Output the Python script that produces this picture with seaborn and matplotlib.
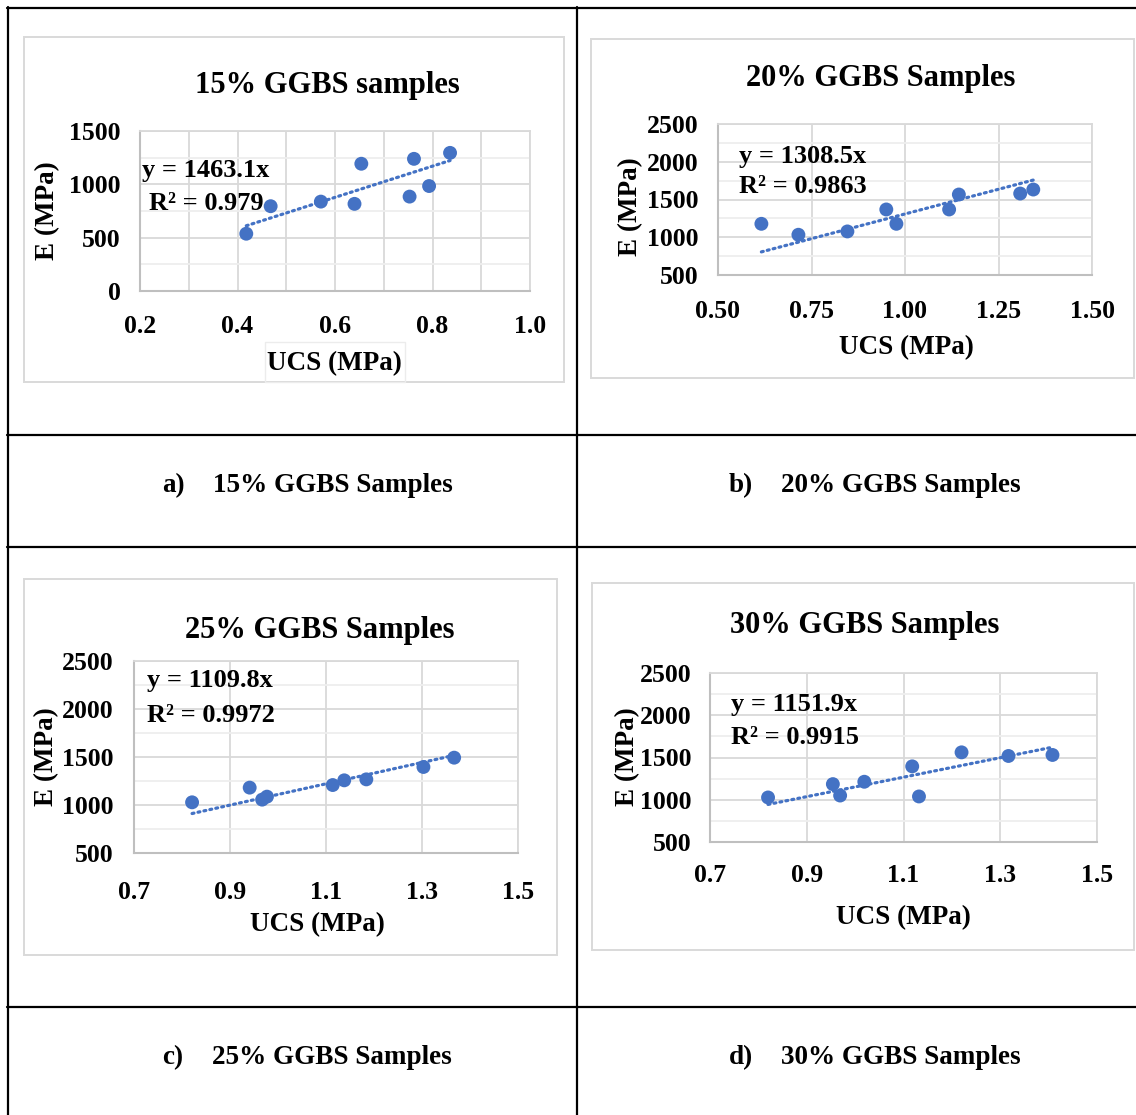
import matplotlib
matplotlib.use("Agg")
import matplotlib.pyplot as plt
from matplotlib.lines import Line2D
from matplotlib.patches import Rectangle
from matplotlib.ticker import MultipleLocator
import seaborn as sns

# ---- data: UCS (MPa) vs elastic modulus E (MPa) for each GGBS content ----
ucs_15 = [0.418, 0.468, 0.571, 0.640, 0.654, 0.753, 0.762, 0.793, 0.836]
e_15 = [537, 795, 838, 817, 1193, 885, 1239, 984, 1295]

ucs_20 = [0.616, 0.715, 0.846, 0.950, 0.977, 1.118, 1.144, 1.308, 1.343]
e_20 = [1178, 1033, 1077, 1368, 1178, 1368, 1566, 1579, 1632]

ucs_25 = [0.821, 0.941, 0.967, 0.977, 1.114, 1.138, 1.184, 1.303, 1.367]
e_25 = [1028, 1181, 1056, 1087, 1208, 1257, 1267, 1396, 1493]

ucs_30 = [0.820, 0.954, 0.969, 1.019, 1.118, 1.132, 1.220, 1.317, 1.408]
e_30 = [1027, 1185, 1050, 1213, 1395, 1039, 1561, 1518, 1530]

slopes = [1463.1, 1308.5, 1109.8, 1151.9]
r2_labels = ["0.979", "0.9863", "0.9972", "0.9915"]
slope_labels = ["1463.1", "1308.5", "1109.8", "1151.9"]

titles = ["15% GGBS samples", "20% GGBS Samples", "25% GGBS Samples", "30% GGBS Samples"]
captions = ["15% GGBS Samples", "20% GGBS Samples", "25% GGBS Samples", "30% GGBS Samples"]
caption_tags = ["a)", "b)", "c)", "d)"]

x_ticks = [
    [0.2, 0.4, 0.6, 0.8, 1.0],
    [0.50, 0.75, 1.00, 1.25, 1.50],
    [0.7, 0.9, 1.1, 1.3, 1.5],
    [0.7, 0.9, 1.1, 1.3, 1.5],
]
x_tick_labels = [
    ["0.2", "0.4", "0.6", "0.8", "1.0"],
    ["0.50", "0.75", "1.00", "1.25", "1.50"],
    ["0.7", "0.9", "1.1", "1.3", "1.5"],
    ["0.7", "0.9", "1.1", "1.3", "1.5"],
]
y_ticks = [
    [0, 500, 1000, 1500],
    [500, 1000, 1500, 2000, 2500],
    [500, 1000, 1500, 2000, 2500],
    [500, 1000, 1500, 2000, 2500],
]

ucs_sets = [ucs_15, ucs_20, ucs_25, ucs_30]
e_sets = [e_15, e_20, e_25, e_30]

# ---- style ----
sns.set_style("white")
plt.rcParams["font.family"] = ["Liberation Serif", "DejaVu Serif"]
plt.rcParams["font.weight"] = "bold"
plt.rcParams["text.color"] = "black"
plt.rcParams["xtick.labelcolor"] = "black"
plt.rcParams["ytick.labelcolor"] = "black"

W, H = 1136, 1115
BLUE = "#4472C4"
fig = plt.figure(figsize=(W / 100, H / 100), dpi=100)
fig.patch.set_facecolor("white")


def fx(x):
    return x / W


def fy(y):
    return 1 - y / H


def rect(l, t, r, b):
    return [fx(l), fy(b), (r - l) / W, (b - t) / H]


# layout of each panel in pixels
layout = [
    dict(box=(24, 37, 564, 382), ax=(140, 131, 530, 291), xpad=17, ypad=14,
         title=(327, 93), ylab=(48, 211), xlab=(334, 364),
         eq=(142, 177), r2=(149, 210), xminor=0.1),
    dict(box=(591, 39, 1134, 378), ax=(718, 124, 1092, 275), xpad=18, ypad=14,
         title=(881, 86), ylab=(631, 207), xlab=(906, 348),
         eq=(739, 163), r2=(739, 193), xminor=None),
    dict(box=(24, 579, 557, 955), ax=(134, 661, 518, 853), xpad=20, ypad=15,
         title=(320, 638), ylab=(47, 757), xlab=(317, 925),
         eq=(147, 687), r2=(147, 722), xminor=None),
    dict(box=(592, 583, 1134, 950), ax=(710, 673, 1097, 842), xpad=16, ypad=13,
         title=(865, 633), ylab=(628, 757), xlab=(903, 918),
         eq=(731, 711), r2=(731, 744), xminor=None),
]

TICK_FS = 18.5
LABEL_FS = 19.5
TITLE_FS = 22
EQ_FS = 19

for i, cfg in enumerate(layout):
    # chart-area frame
    l, t, r, b = cfg["box"]
    fig.add_artist(Rectangle((fx(l), fy(b)), (r - l) / W, (b - t) / H,
                             transform=fig.transFigure, fill=False,
                             edgecolor="#d9d9d9", lw=1.4, zorder=0))

    ax = fig.add_axes(rect(*cfg["ax"]))
    xs, ys, k = ucs_sets[i], e_sets[i], slopes[i]

    # linear trend through the origin
    x0, x1 = min(xs), max(xs)
    sns.lineplot(x=[x0, x1], y=[k * x0, k * x1], ax=ax, color=BLUE, lw=2.3,
                 linestyle=(0, (0.6, 1.3)), dash_capstyle="round", zorder=2)
    sns.scatterplot(x=xs, y=ys, ax=ax, color=BLUE, s=100, edgecolor="none",
                    linewidth=0, zorder=3)

    xt, yt = x_ticks[i], y_ticks[i]
    ax.set_xlim(xt[0], xt[-1])
    ax.set_ylim(yt[0], yt[-1])
    ax.set_xticks(xt)
    ax.set_xticklabels(x_tick_labels[i])
    ax.set_yticks(yt)
    ax.set_yticklabels([str(v) for v in yt])
    ax.yaxis.set_minor_locator(MultipleLocator(250))
    if cfg["xminor"]:
        ax.xaxis.set_minor_locator(MultipleLocator(cfg["xminor"]))
        ax.grid(which="minor", axis="x", color="#d9d9d9", lw=1.3)
    ax.grid(which="major", color="#d9d9d9", lw=1.3)
    ax.grid(which="minor", axis="y", color="#eeeeee", lw=1.3)
    ax.set_axisbelow(True)

    ax.tick_params(which="both", length=0, labelsize=TICK_FS)
    ax.tick_params(axis="x", pad=cfg["xpad"])
    ax.tick_params(axis="y", pad=cfg["ypad"])
    for lbl in ax.get_xticklabels() + ax.get_yticklabels():
        lbl.set_fontweight("bold")
        lbl.set_color("black")
    for side in ["top", "right"]:
        ax.spines[side].set_color("#d9d9d9")
        ax.spines[side].set_linewidth(1.3)
    for side in ["left", "bottom"]:
        ax.spines[side].set_color("#bfbfbf")
        ax.spines[side].set_linewidth(1.5)
    ax.set_xlabel("")
    ax.set_ylabel("")

    tx, ty = cfg["title"]
    fig.text(fx(tx), fy(ty), titles[i], ha="center", va="baseline",
             fontsize=TITLE_FS, fontweight="bold", color="black")
    yx, yy = cfg["ylab"]
    fig.text(fx(yx), fy(yy), "E (MPa)", ha="center", va="center",
             rotation=90, fontsize=LABEL_FS, fontweight="bold", color="black")
    xx, xy = cfg["xlab"]
    fig.text(fx(xx), fy(xy), "UCS (MPa)", ha="center", va="center",
             fontsize=LABEL_FS, fontweight="bold", color="black")
    ex, ey = cfg["eq"]
    fig.text(fx(ex), fy(ey), f"y = {slope_labels[i]}x", ha="left",
             va="baseline", fontsize=EQ_FS, fontweight="bold", color="black")
    rx, ry = cfg["r2"]
    fig.text(fx(rx), fy(ry), f"R² = {r2_labels[i]}", ha="left",
             va="baseline", fontsize=EQ_FS, fontweight="bold", color="black")

# faint frame around the x-axis title of the first chart
fig.add_artist(Rectangle((fx(265), fy(382)), 140 / W, 40 / H,
                         transform=fig.transFigure, fill=False,
                         edgecolor="#ececec", lw=1.0, zorder=0))

# ---- table rules ----
LW = 1.6
for y in [8, 435, 547, 1007]:
    fig.add_artist(Line2D([fx(7), fx(W)], [fy(y), fy(y)], color="black",
                          lw=LW, transform=fig.transFigure))
for x in [8, 577]:
    fig.add_artist(Line2D([fx(x), fx(x)], [fy(7), fy(H)], color="black",
                          lw=LW, transform=fig.transFigure))

# ---- captions ----
cap_pos = [(162, 213, 492), (729, 781, 492), (162, 212, 1064), (729, 781, 1064)]
for i, (tx0, tx1, by) in enumerate(cap_pos):
    fig.text(fx(tx0), fy(by), caption_tags[i], ha="left", va="baseline",
             fontsize=19.5, fontweight="bold", color="black")
    fig.text(fx(tx1), fy(by), captions[i], ha="left", va="baseline",
             fontsize=19.5, fontweight="bold", color="black")

fig.savefig("out.png", dpi=100, facecolor="white")
